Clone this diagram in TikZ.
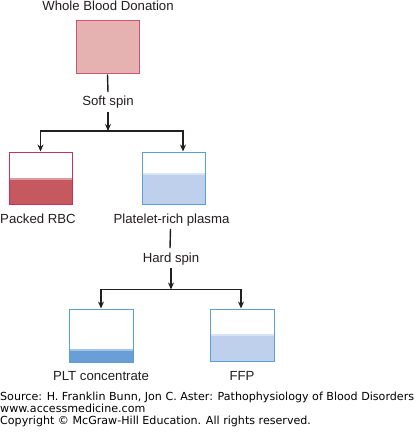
\documentclass[tikz,border=0pt]{standalone}
\usepackage{fontspec}
\setmainfont{Liberation Sans}
\newfontfamily\footfont{DejaVu Sans}
\usetikzlibrary{arrows.meta}
\definecolor{topfill}{RGB}{230,177,177}
\definecolor{topdraw}{RGB}{205,85,115}
\definecolor{rbcdraw}{RGB}{200,50,90}
\definecolor{rbcfill}{RGB}{198,88,96}
\definecolor{bluedraw}{RGB}{90,160,215}
\definecolor{plasmafill}{RGB}{190,208,235}
\definecolor{pltfill}{RGB}{106,158,214}
\definecolor{lineblack}{RGB}{35,31,32}
\tikzset{
  bag/.style={draw, line width=1pt, minimum width=63pt, minimum height=52pt, inner sep=0pt},
  lbl/.style={font=\fontsize{13.2}{15}\selectfont, text=lineblack, inner sep=0pt, anchor=base},
  conn/.style={draw=lineblack, line width=1.4pt},
  arr/.style={conn, -{Stealth[length=7pt,width=6pt]}},
  level/.style 2 args={path picture={
      \fill[#2] ([yshift=#1pt]path picture bounding box.south west) rectangle (path picture bounding box.south east);
      \fill[#2!60!white] ([yshift=#1pt]path picture bounding box.south west) rectangle ([yshift=#1pt-2pt]path picture bounding box.south east);
  }},
  foot/.style={font=\footfont\fontsize{11.1}{12}\selectfont, text=black, inner sep=0pt, anchor=base west},
}
\begin{document}
\begin{tikzpicture}[x=1pt,y=-1pt]
\useasboundingbox[fill=white] (0,0) rectangle (419,433);
% top
\node[lbl] (ttl) at (108,11) {Whole Blood Donation};
\node[bag, draw=topdraw, fill=topfill, minimum height=53pt] (top) at (107.5,47.5) {};
\node[lbl] (soft) at (108,106) {Soft spin};
\coordinate (j1) at (108,131);
\draw[conn] (top.south) -- ([yshift=4pt]soft.north);
\draw[arr] ([yshift=-3pt]soft.south) -- (j1);
% second row
\node[bag, draw=rbcdraw, fill=white, level={26}{rbcfill}] (rbc) at (40.5,178) {};
\node[bag, draw=bluedraw, fill=white, level={31}{plasmafill}] (prp) at (173.5,178) {};
\draw[arr] (j1) -| (rbc.north);
\draw[arr] (j1) -| ([xshift=9.5pt]prp.north);
\node[lbl] (rbclbl) at (38,223) {Packed RBC};
\node[lbl] (prplbl) at (171.5,223) {Platelet-rich plasma};
\node[lbl] (hard) at (171,262) {Hard spin};
\coordinate (j2) at (171,289.5);
\draw[conn] ([xshift=-1pt,yshift=-3pt]prplbl.south) -- ([xshift=-1pt,yshift=4pt]hard.north);
\draw[arr] ([yshift=-3pt]hard.south) -- (j2);
% third row
\node[bag, draw=bluedraw, fill=white, level={13}{pltfill}, minimum width=64pt, minimum height=53pt] (plt) at (101,335.5) {};
\node[bag, draw=bluedraw, fill=white, level={27}{plasmafill}, minimum width=64pt] (ffp) at (242,335) {};
\draw[arr] (j2) -| (plt.north);
\draw[arr] (j2) -| ([xshift=-1pt]ffp.north);
\node[lbl] (pltlbl) at (101,380) {PLT concentrate};
\node[lbl] (ffplbl) at (242,380) {FFP};
% footer
\node[foot] (f1) at (0,400) {Source: H. Franklin Bunn, Jon C. Aster: Pathophysiology of Blood Disorders};
\node[foot] (f2) at (0,412) {www.accessmedicine.com};
\node[foot] (f3) at (0,424) {Copyright © McGraw-Hill Education. All rights reserved.};
\end{tikzpicture}
\end{document}
